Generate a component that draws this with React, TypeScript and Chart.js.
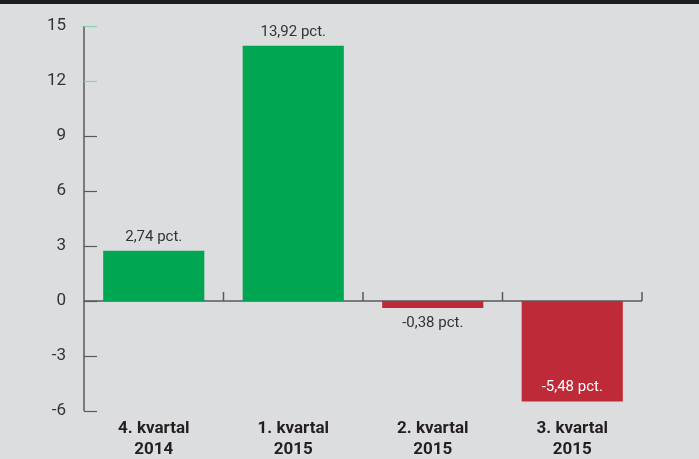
import React, { useEffect, useRef } from "react";
import { Chart, registerables } from "chart.js";

Chart.register(...registerables);

const categories: string[][] = [
  ["4. kvartal", "2014"],
  ["1. kvartal", "2015"],
  ["2. kvartal", "2015"],
  ["3. kvartal", "2015"],
];
const values: number[] = [2.74, 13.92, -0.38, -5.48];
const valueLabels: string[] = ["2,74 pct.", "13,92 pct.", "-0,38 pct.", "-5,48 pct."];
const yMin = -6;
const yMax = 15;
const yStep = 3;

const GREEN = "#00a651";
const RED = "#be2a37";
const AXIS = "#58595b";
const TEXT = "#333333";

const decor = {
  id: "decor",
  beforeDraw(chart: any) {
    const ctx = chart.ctx;
    ctx.save();
    ctx.fillStyle = "#dcdddf";
    ctx.fillRect(0, 0, chart.width, chart.height);
    ctx.fillStyle = "#1e1e1e";
    ctx.fillRect(0, 0, chart.width, 4);
    ctx.restore();
  },
  beforeDatasetsDraw(chart: any) {
    const { ctx, chartArea, scales } = chart;
    const x = scales.x;
    const y = scales.y;
    const y0 = y.getPixelForValue(0);
    ctx.save();
    ctx.strokeStyle = AXIS;
    ctx.lineWidth = 1.5;
    ctx.beginPath();
    ctx.moveTo(chartArea.left, chartArea.top);
    ctx.lineTo(chartArea.left, chartArea.bottom);
    ctx.stroke();
    y.ticks.forEach((t: any) => {
      const py = Math.round(y.getPixelForValue(t.value)) + 0.5;
      ctx.lineWidth = 1.2;
      ctx.strokeStyle = t.value >= 12 ? "#8fcfae" : AXIS;
      ctx.beginPath();
      ctx.moveTo(chartArea.left, py);
      ctx.lineTo(chartArea.left + 13, py);
      ctx.stroke();
    });
    ctx.strokeStyle = AXIS;
    ctx.lineWidth = 1.5;
    ctx.beginPath();
    ctx.moveTo(chartArea.left, y0);
    ctx.lineTo(chartArea.right, y0);
    ctx.stroke();
    for (let i = 0; i < categories.length; i++) {
      const bx =
        i === categories.length - 1
          ? chartArea.right
          : (x.getPixelForValue(i) + x.getPixelForValue(i + 1)) / 2;
      ctx.beginPath();
      ctx.moveTo(bx, y0);
      ctx.lineTo(bx, y0 - 9);
      ctx.stroke();
    }
    ctx.restore();
  },
  afterDatasetsDraw(chart: any) {
    const ctx = chart.ctx;
    const meta = chart.getDatasetMeta(0);
    ctx.save();
    ctx.font = "400 15px Roboto";
    ctx.textAlign = "center";
    ctx.textBaseline = "middle";
    meta.data.forEach((bar: any, i: number) => {
      const v = values[i];
      let ty: number;
      if (v >= 0) {
        ctx.fillStyle = TEXT;
        ty = bar.y - 14;
      } else if (v < -1) {
        ctx.fillStyle = "#ffffff";
        ty = bar.y - 14;
      } else {
        ctx.fillStyle = TEXT;
        ty = bar.y + 15;
      }
      ctx.fillText(valueLabels[i], bar.x, ty);
    });
    ctx.restore();
  },
};

export default function App() {
  const ref = useRef<HTMLCanvasElement | null>(null);
  useEffect(() => {
    if (!ref.current) return;
    const chart = new Chart(ref.current, {
      type: "bar",
      data: {
        labels: categories as any,
        datasets: [
          {
            data: values,
            backgroundColor: values.map((v) => (v >= 0 ? GREEN : RED)),
            borderWidth: 0,
            barPercentage: 0.725,
            categoryPercentage: 1,
          },
        ],
      },
      options: {
        responsive: false,
        animation: false,
        devicePixelRatio: 1,
        layout: { padding: { left: 0, top: 26, right: 57, bottom: 0 } },
        plugins: { legend: { display: false }, tooltip: { enabled: false } },
        scales: {
          x: {
            grid: { display: false },
            border: { display: false },
            ticks: {
              color: "#231f20",
              font: { family: "Roboto", size: 17, weight: "bold", lineHeight: 1.2 },
              padding: 0,
              maxRotation: 0,
              autoSkip: false,
            },
            afterFit: (s: any) => {
              s.height = 48;
            },
          },
          y: {
            min: yMin,
            max: yMax,
            grid: { display: false },
            border: { display: false },
            ticks: {
              stepSize: yStep,
              color: TEXT,
              font: { family: "Roboto", size: 17, weight: "normal" },
              padding: 10,
            },
            afterFit: (s: any) => {
              s.width = 84;
            },
          },
        },
      },
      plugins: [decor],
    });
    return () => chart.destroy();
  }, []);
  return (
    <div style={{ position: "fixed", left: 0, top: 0, width: 699, height: 459, background: "#dcdddf" }}>
      <canvas ref={ref} width={699} height={459} style={{ display: "block" }} />
    </div>
  );
}
